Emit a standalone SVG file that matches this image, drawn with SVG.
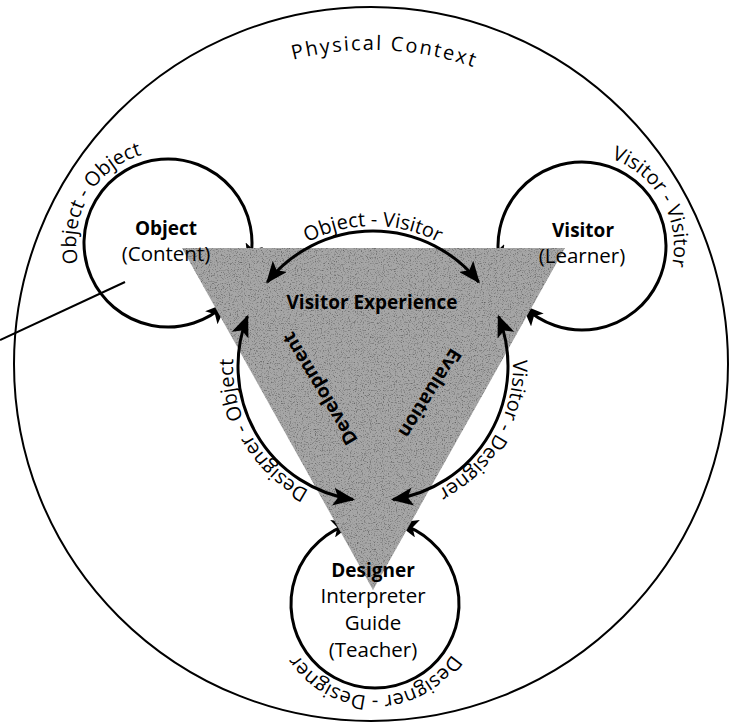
<svg xmlns="http://www.w3.org/2000/svg" width="736" height="726" viewBox="0 0 736 726">
<style>
  text { font-family: "Open Sans", "Noto Sans", "Liberation Sans", sans-serif; fill: #000; }
  .title { font-size: 19px; font-weight: bold; }
  .sub { font-size: 20.5px; }
  .rel { font-size: 20px; }
  .inner { font-size: 19px; font-weight: bold; }
  .loop { fill: none; stroke: #000; stroke-width: 3; marker-start: url(#ah); marker-end: url(#ah); }
  .arc { fill: none; stroke: #000; stroke-width: 3; marker-start: url(#ah); marker-end: url(#ah); }
  .thin { fill: none; stroke: #000; stroke-width: 2; }
</style>
<defs>
  <marker id="ah" markerUnits="userSpaceOnUse" viewBox="0 0 24 18" markerWidth="24" markerHeight="18" refX="20" refY="9" orient="auto-start-reverse">
    <path d="M0,0 L22,9 L0,18 L5,9 z" fill="#000"/>
  </marker>
  <filter id="grain" x="0" y="0" width="1" height="1">
    <feTurbulence type="fractalNoise" baseFrequency="0.85" numOctaves="2" seed="5" result="t"/>
    <feColorMatrix in="t" type="matrix" values="0 0 0 0 0  0 0 0 0 0  0 0 0 0 0  1.2 0 0 0 -0.62" result="d"/>
    <feComposite in="d" in2="SourceAlpha" operator="in"/>
  </filter>
  <path id="tp-ov" d="M235.13,341.69 A140,140 0 0 1 510.87,341.69"/>
  <path id="tp-vd" d="M463.0,258.76 A140,140 0 0 1 325.12,497.56"/>
  <path id="tp-do" d="M420.88,497.56 A140,140 0 0 1 283.0,258.76"/>
  <path id="tp-oo" d="M108.25,312.96 A92,92 0 0 1 200.22,156.82"/>
  <path id="tp-vv" d="M551.29,159.28 A92,92 0 0 1 640.52,316.99"/>
  <path id="tp-dd" d="M465.60,619.98 A92,92 0 0 1 284.40,619.98"/>
  <path id="tp-pc" d="M179.84,114.87 A314,314 0 0 1 583.13,132.49"/>
</defs>

<g id="physical-context">
  <circle cx="371" cy="364" r="357" class="thin"/>
  <text class="rel" letter-spacing="2"><textPath href="#tp-pc" startOffset="50%" text-anchor="middle">Physical Context</textPath></text>
  <line x1="0" y1="340" x2="125" y2="282" class="thin"/>
</g>

<g id="node-object">
  <path class="loop" d="M225.83,303.93 A84,84 0 1 1 249.32,264.03"/>
</g>
<g id="node-visitor">
  <path class="loop" d="M500.32,265.61 A84,84 0 1 1 523.12,305.92"/>
</g>
<g id="node-designer">
  <path class="loop" d="M398.15,523.25 A84,84 0 1 1 351.85,523.25"/>
</g>

<g id="node-experience">
  <polygon points="182,248 565,248 373,590" fill="#a6a6a6"/>
  <polygon points="182,248 565,248 373,590" fill="#000" filter="url(#grain)"/>
  <text class="inner" x="372" y="309" text-anchor="middle">Visitor Experience</text>
  <text class="inner" transform="translate(319.5,389) rotate(-121)" text-anchor="middle" dy="7">Development</text>
  <text class="inner" transform="translate(430.5,393.5) rotate(122)" text-anchor="middle" dy="7">Evaluation</text>
</g>

<g id="node-object-label">
  <text class="title" x="166" y="235" text-anchor="middle">Object</text>
  <text class="sub" x="166" y="261" text-anchor="middle">(Content)</text>
</g>
<g id="node-visitor-label">
  <text class="title" x="583" y="237" text-anchor="middle">Visitor</text>
  <text class="sub" x="582" y="263" text-anchor="middle">(Learner)</text>
</g>
<g id="node-designer-label">
  <text class="title" x="373" y="577" text-anchor="middle">Designer</text>
  <text class="sub" x="373" y="603" text-anchor="middle">Interpreter</text>
  <text class="sub" x="373" y="630" text-anchor="middle">Guide</text>
  <text class="sub" x="373" y="657" text-anchor="middle">(Teacher)</text>
</g>

<g id="connectors">
  <path class="arc" d="M267.35,281.96 A135,135 0 0 1 478.65,281.96"/>
  <path class="arc" d="M498.60,316.52 A135,135 0 0 1 392.95,499.52"/>
  <path class="arc" d="M353.05,499.52 A135,135 0 0 1 247.40,316.52"/>
  <text class="rel"><textPath href="#tp-ov" startOffset="50%" text-anchor="middle">Object - Visitor</textPath></text>
  <text class="rel"><textPath href="#tp-vd" startOffset="50%" text-anchor="middle">Visitor - Designer</textPath></text>
  <text class="rel"><textPath href="#tp-do" startOffset="50%" text-anchor="middle">Designer - Object</textPath></text>
  <text class="rel"><textPath href="#tp-oo" startOffset="50%" text-anchor="middle">Object - Object</textPath></text>
  <text class="rel"><textPath href="#tp-vv" startOffset="50%" text-anchor="middle">Visitor - Visitor</textPath></text>
  <text class="rel"><textPath href="#tp-dd" startOffset="50%" text-anchor="middle">Designer - Designer</textPath></text>
</g>
</svg>
